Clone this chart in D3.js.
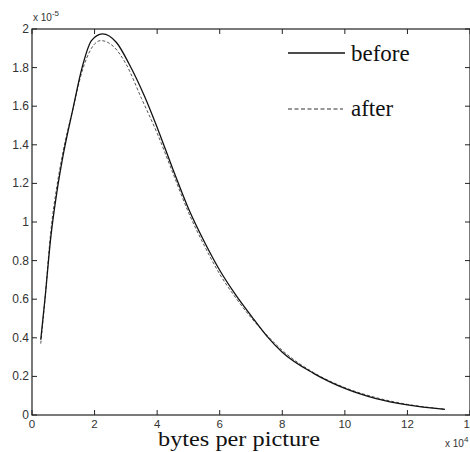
<!DOCTYPE html>
<html>
<head>
<meta charset="utf-8">
<script src="https://cdn.jsdelivr.net/npm/d3@7"></script>
<style>
  body { margin: 0; background: #fff; }
  svg { display: block; }
</style>
</head>
<body>
<div id="chart"></div>
<script>
// values in units of 1e4 bytes (x) and 1e-5 (y)
const beforeX = [0.28, 0.42, 0.6, 0.8, 1.0, 1.3, 1.6, 1.9, 2.25, 2.7, 3.1, 3.6, 4.0, 4.5, 5.0, 5.5, 6.0, 6.5, 7.0, 7.5, 8.0, 9.0, 10.0, 11.0, 12.0, 13.2];
const beforeY = [0.39, 0.61, 0.92, 1.16, 1.35, 1.58, 1.80, 1.94, 1.975, 1.93, 1.82, 1.65, 1.49, 1.275, 1.07, 0.90, 0.75, 0.625, 0.515, 0.41, 0.325, 0.216, 0.138, 0.085, 0.052, 0.029];
const afterX = [0.28, 0.42, 0.6, 0.8, 1.0, 1.3, 1.6, 1.9, 2.2, 2.6, 3.0, 3.5, 4.0, 4.5, 5.0, 5.5, 6.0, 6.5, 7.0, 7.5, 8.0, 9.0, 10.0, 11.0, 12.0, 13.2];
const afterY = [0.37, 0.61, 0.95, 1.19, 1.37, 1.58, 1.78, 1.90, 1.94, 1.91, 1.82, 1.64, 1.46, 1.255, 1.05, 0.88, 0.73, 0.61, 0.505, 0.415, 0.335, 0.22, 0.142, 0.09, 0.055, 0.03];
const xTicks = [0, 2, 4, 6, 8, 10, 12, 14];
const yTicks = [0, 0.2, 0.4, 0.6, 0.8, 1, 1.2, 1.4, 1.6, 1.8, 2];

const width = 470, height = 452;
const marginLeft = 32, marginTop = 29, marginBottom = 37;
const plotRight = 470;

const x = d3.scaleLinear().domain([0, 14]).range([marginLeft, plotRight]);
const y = d3.scaleLinear().domain([0, 2]).range([height - marginBottom, marginTop]);

const svg = d3.select("#chart").append("svg")
    .attr("width", width)
    .attr("height", height)
    .attr("viewBox", [0, 0, width, height]);

const tickFont = "Liberation Sans, Arial, sans-serif";
const serif = "Liberation Serif, Times New Roman, serif";
const labelColor = "#333";

// frame
svg.append("rect")
    .attr("x", marginLeft).attr("y", marginTop)
    .attr("width", plotRight - marginLeft)
    .attr("height", height - marginBottom - marginTop)
    .attr("fill", "none")
    .attr("stroke", "#222")
    .attr("stroke-width", 1.2);

// inward ticks
const tickLen = 5;
const ticks = svg.append("g").attr("stroke", "#222").attr("stroke-width", 1);
ticks.selectAll(".xb").data(xTicks).join("line")
    .attr("x1", d => x(d)).attr("x2", d => x(d))
    .attr("y1", y(0)).attr("y2", y(0) - tickLen);
ticks.selectAll(".xt").data(xTicks).join("line")
    .attr("x1", d => x(d)).attr("x2", d => x(d))
    .attr("y1", y(2)).attr("y2", y(2) + tickLen);
ticks.selectAll(".yl").data(yTicks).join("line")
    .attr("x1", x(0)).attr("x2", x(0) + tickLen)
    .attr("y1", d => y(d)).attr("y2", d => y(d));
ticks.selectAll(".yr").data(yTicks).join("line")
    .attr("x1", x(14)).attr("x2", x(14) - tickLen)
    .attr("y1", d => y(d)).attr("y2", d => y(d));

// tick labels
svg.append("g")
    .attr("font-family", tickFont).attr("font-size", 11.5).attr("fill", labelColor)
    .attr("text-anchor", "middle")
  .selectAll("text").data(xTicks).join("text")
    .attr("x", d => x(d))
    .attr("y", y(0) + 13)
    .text(d => d);

svg.append("g")
    .attr("font-family", tickFont).attr("font-size", 12).attr("fill", labelColor)
    .attr("text-anchor", "end")
  .selectAll("text").data(yTicks).join("text")
    .attr("x", x(0) - 3)
    .attr("y", d => y(d) + 4)
    .text(d => d3.format("~g")(d));

// exponent labels
const expTop = svg.append("text")
    .attr("x", marginLeft + 1).attr("y", 21)
    .attr("font-family", tickFont).attr("font-size", 10).attr("fill", labelColor);
expTop.append("tspan").text("x 10");
expTop.append("tspan").attr("dy", -5).attr("font-size", 8).text("-5");

const expBottom = svg.append("text")
    .attr("x", 445).attr("y", 447)
    .attr("font-family", tickFont).attr("font-size", 10).attr("fill", labelColor);
expBottom.append("tspan").text("x 10");
expBottom.append("tspan").attr("dy", -5).attr("font-size", 8).text("4");

// axis title
svg.append("text")
    .attr("x", 158).attr("y", 446)
    .attr("font-family", serif)
    .attr("font-size", 21)
    .attr("textLength", 162)
    .attr("lengthAdjust", "spacingAndGlyphs")
    .attr("fill", "#111")
    .text("bytes per picture");

// curves
const line = d3.line().curve(d3.curveMonotoneX).x(d => x(d[0])).y(d => y(d[1]));
const beforeData = beforeX.map((v, i) => [v, beforeY[i]]);
const afterData = afterX.map((v, i) => [v, afterY[i]]);

svg.append("path")
    .datum(afterData)
    .attr("d", line)
    .attr("fill", "none")
    .attr("stroke", "#555")
    .attr("stroke-width", 1)
    .attr("stroke-dasharray", "3,2");

svg.append("path")
    .datum(beforeData)
    .attr("d", line)
    .attr("fill", "none")
    .attr("stroke", "#111")
    .attr("stroke-width", 1.3);

// legend
const legend = svg.append("g")
    .attr("font-family", serif)
    .attr("font-size", 23)
    .attr("fill", "#111");
legend.append("line")
    .attr("x1", 288).attr("x2", 345).attr("y1", 53).attr("y2", 53)
    .attr("stroke", "#111").attr("stroke-width", 1.5);
legend.append("text").attr("x", 351).attr("y", 61).text("before");
legend.append("line")
    .attr("x1", 288).attr("x2", 343).attr("y1", 109).attr("y2", 109)
    .attr("stroke", "#333").attr("stroke-width", 1.2)
    .attr("stroke-dasharray", "4,2.5");
legend.append("text").attr("x", 351).attr("y", 116).text("after");
</script>
</body>
</html>
